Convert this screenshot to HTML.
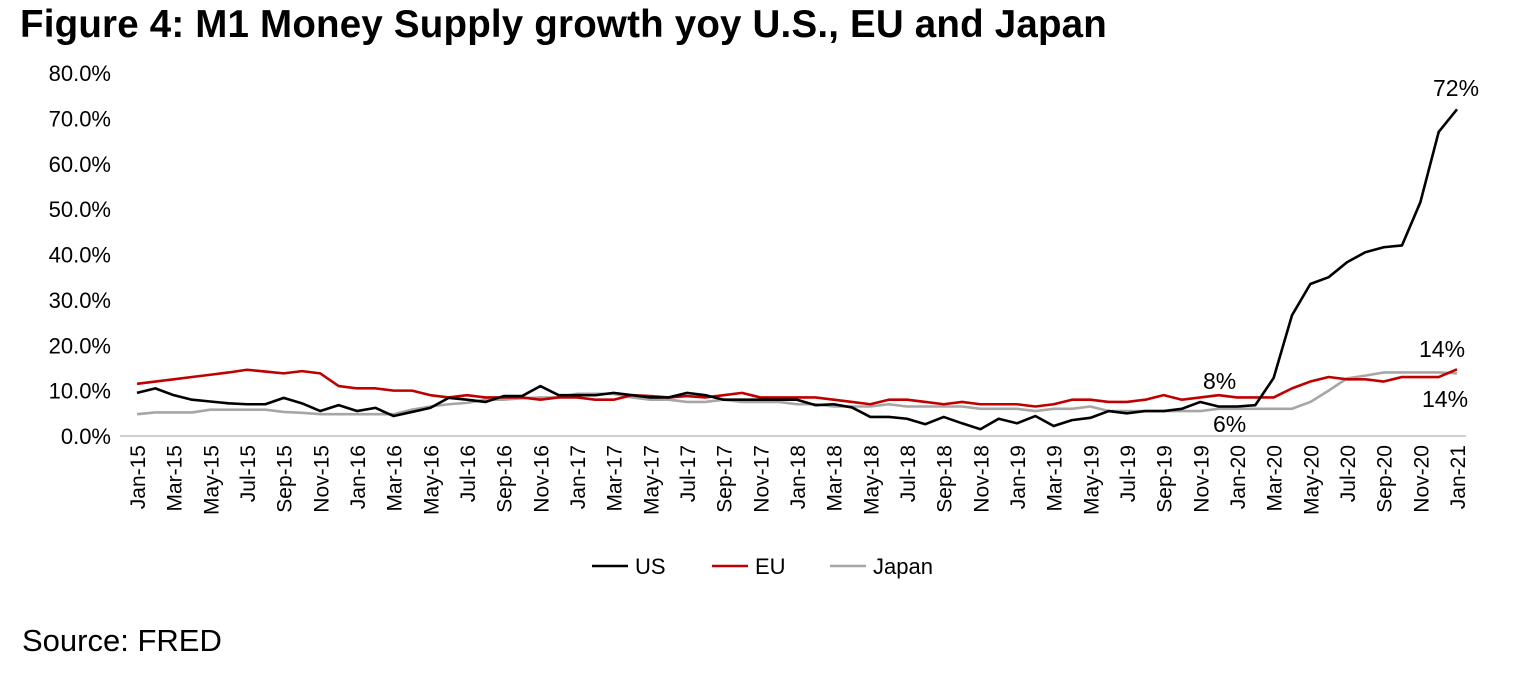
<!DOCTYPE html>
<html><head><meta charset="utf-8"><style>
body{margin:0;background:#fff;font-family:"Liberation Sans",Arial,sans-serif}
#wrap{position:relative;width:1518px;height:680px;overflow:hidden}
#title{position:absolute;left:20px;top:3px;font-size:38.5px;font-weight:bold;color:#000;letter-spacing:0.2px}
#src{position:absolute;left:22px;top:623px;font-size:31px;color:#000}
svg{position:absolute;left:0;top:0}
</style></head><body>
<div id="wrap">
<div id="title">Figure 4: M1 Money Supply growth yoy U.S., EU and Japan</div>
<svg id="chart" width="1518" height="680"></svg>
<div id="src">Source: FRED</div>
</div>
<script>
const monthNames=["Jan","Feb","Mar","Apr","May","Jun","Jul","Aug","Sep","Oct","Nov","Dec"];
const yTicks=[0,10,20,30,40,50,60,70,80];
const usValues=[9.5,10.5,9,8,7.6,7.2,7,7,8.4,7.2,5.5,6.8,5.5,6.2,4.4,5.3,6.2,8.4,8,7.5,8.8,8.8,11,9,9,9,9.5,9,8.5,8.5,9.5,9,8,8,8,8,8,6.8,7,6.3,4.2,4.2,3.8,2.6,4.2,2.8,1.5,3.8,2.8,4.4,2.2,3.5,4,5.5,5,5.5,5.5,6,7.5,6.5,6.5,6.8,12.8,26.6,33.5,35,38.3,40.5,41.6,42,51.5,67,72];
const euValues=[11.5,12,12.5,13,13.5,14,14.6,14.2,13.8,14.3,13.8,11,10.5,10.5,10,10,9,8.5,9,8.5,8.5,8.5,8,8.5,8.5,8,8,9,8.8,8.5,8.8,8.5,9,9.5,8.5,8.5,8.5,8.5,8,7.5,7,8,8,7.5,7,7.5,7,7,7,6.5,7,8,8,7.5,7.5,8,9,8,8.5,9,8.5,8.5,8.5,10.5,12,13,12.5,12.5,12,13,13,13,14.7];
const japanValues=[4.8,5.2,5.2,5.2,5.8,5.8,5.8,5.8,5.3,5.1,4.8,4.8,4.8,4.8,4.8,5.8,6.5,7,7.3,8,8,8.3,8.5,8.5,9.3,9.3,9.3,8.5,8,8,7.5,7.5,8,7.5,7.5,7.5,7,7,6.5,6.5,6.5,7,6.5,6.5,6.5,6.5,6,6,6,5.5,6,6,6.5,5.5,5.5,5.5,5.5,5.5,5.5,6,6,6,6,6,7.5,10,12.7,13.3,14,14,14,14,13.8];
const x0=137,x1=1457,y0=436,yTop=73;
const N=usValues.length;
const xs=i=>x0+(x1-x0)*i/(N-1);
const ys=v=>y0-(y0-yTop)*v/80;
const svg=document.getElementById('chart');
const NS="http://www.w3.org/2000/svg";
function mk(t,a){const e=document.createElementNS(NS,t);for(const k in a)e.setAttribute(k,a[k]);svg.appendChild(e);return e;}
const ax=mk('line',{x1:120,x2:1466,y1:y0,y2:y0,stroke:'#d0d0d0','stroke-width':2});


yTicks.forEach(v=>{const t=mk('text',{x:111,y:ys(v)+8,'text-anchor':'end','font-size':22,fill:'#000','font-family':'Liberation Sans'});t.textContent=v.toFixed(1)+'%';

});
for(let i=0;i<N;i+=2){const lbl=monthNames[i%12]+'-'+(15+Math.floor(i/12));const x=xs(i)+8;const t=mk('text',{x:x,y:445,'text-anchor':'end','font-size':21,fill:'#000','font-family':'Liberation Sans',transform:`rotate(-90 ${x} 445)`});t.textContent=lbl;

}
function line(vals,color,name){const p=mk('polyline',{points:vals.map((v,i)=>xs(i)+','+ys(v)).join(' '),fill:'none',stroke:color,'stroke-width':2.6,'stroke-linejoin':'round'});

}
line(japanValues,'#a6a6a6','japan-line');
line(euValues,'#c00000','eu-line');
line(usValues,'#000000','us-line');
function lab(x,y,s,n){const t=mk('text',{x:x,y:y,'font-size':23,fill:'#000','font-family':'Liberation Sans'});t.textContent=s;

}
lab(1433,96,'72%','us-end-label');
lab(1419,357,'14%','eu-end-label');
lab(1422,407,'14%','japan-end-label');
lab(1203,389,'8%','eu-jan20-label');
lab(1213,432,'6%','us-jan20-label');
const leg=[['US','#000',592],['EU','#c00000',712],['Japan','#a6a6a6',830]];
leg.forEach(([n,c,x])=>{const l=mk('line',{x1:x,x2:x+36,y1:566,y2:566,stroke:c,'stroke-width':2.6});


const t=mk('text',{x:x+43,y:574,'font-size':22,fill:'#000','font-family':'Liberation Sans'});t.textContent=n;

});
</script>
</body></html>
